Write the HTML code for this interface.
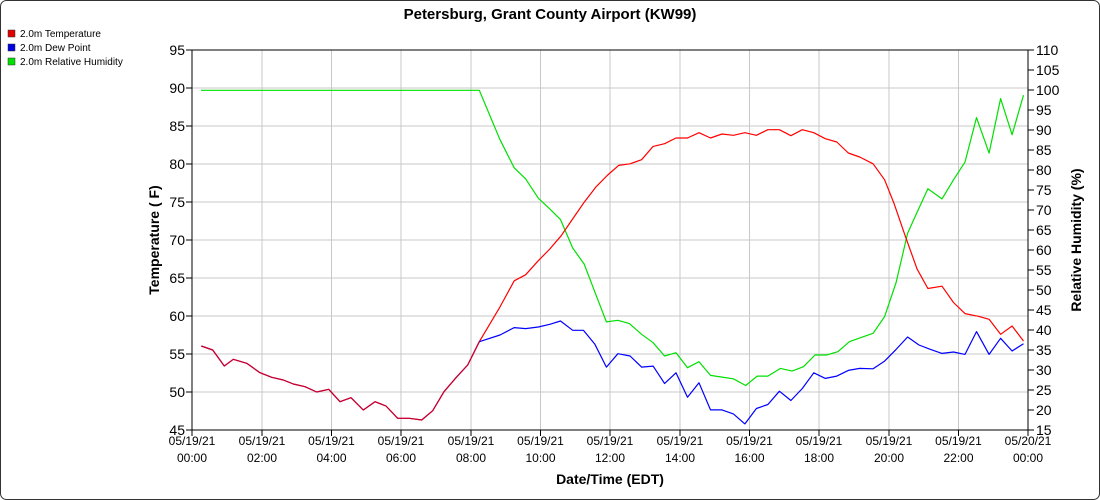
<!DOCTYPE html>
<html><head><meta charset="utf-8"><style>
html,body{margin:0;padding:0;background:#fff;}
svg{display:block;font-family:"Liberation Sans",Arial,sans-serif;}
</style></head><body>
<svg width="1100" height="500" viewBox="0 0 1100 500" xmlns="http://www.w3.org/2000/svg">
<rect x="0.5" y="0.5" width="1099" height="499" rx="6" fill="#fff" stroke="#333"/>
<text x="550" y="19" text-anchor="middle" font-size="15" font-weight="bold">Petersburg, Grant County Airport (KW99)</text>
<g font-size="10">
<rect x="8" y="30" width="7" height="7" fill="#e00000" stroke="#333" stroke-width="0.5"/><text x="20" y="37">2.0m Temperature</text>
<rect x="8" y="44" width="7" height="7" fill="#0000e0" stroke="#333" stroke-width="0.5"/><text x="20" y="51">2.0m Dew Point</text>
<rect x="8" y="58" width="7" height="7" fill="#00e000" stroke="#333" stroke-width="0.5"/><text x="20" y="65">2.0m Relative Humidity</text>
</g>
<g stroke="#c8c8c8" stroke-width="1">
<line x1="192" y1="88" x2="1028" y2="88"/><line x1="192" y1="126" x2="1028" y2="126"/><line x1="192" y1="164" x2="1028" y2="164"/><line x1="192" y1="202" x2="1028" y2="202"/><line x1="192" y1="240" x2="1028" y2="240"/><line x1="192" y1="278" x2="1028" y2="278"/><line x1="192" y1="316" x2="1028" y2="316"/><line x1="192" y1="354" x2="1028" y2="354"/><line x1="192" y1="392" x2="1028" y2="392"/>
<line x1="262" y1="50" x2="262" y2="430"/><line x1="331.5" y1="50" x2="331.5" y2="430"/><line x1="401" y1="50" x2="401" y2="430"/><line x1="471" y1="50" x2="471" y2="430"/><line x1="540.5" y1="50" x2="540.5" y2="430"/><line x1="610" y1="50" x2="610" y2="430"/><line x1="680" y1="50" x2="680" y2="430"/><line x1="749.5" y1="50" x2="749.5" y2="430"/><line x1="819" y1="50" x2="819" y2="430"/><line x1="889" y1="50" x2="889" y2="430"/><line x1="958.5" y1="50" x2="958.5" y2="430"/>
</g>
<rect x="192" y="50" width="836" height="380" fill="none" stroke="#000" stroke-width="1"/>
<g stroke="#000">
<line x1="186" y1="50" x2="192" y2="50"/><line x1="186" y1="88" x2="192" y2="88"/><line x1="186" y1="126" x2="192" y2="126"/><line x1="186" y1="164" x2="192" y2="164"/><line x1="186" y1="202" x2="192" y2="202"/><line x1="186" y1="240" x2="192" y2="240"/><line x1="186" y1="278" x2="192" y2="278"/><line x1="186" y1="316" x2="192" y2="316"/><line x1="186" y1="354" x2="192" y2="354"/><line x1="186" y1="392" x2="192" y2="392"/><line x1="186" y1="430" x2="192" y2="430"/>
<line x1="1028" y1="50" x2="1034" y2="50"/><line x1="1028" y1="70" x2="1034" y2="70"/><line x1="1028" y1="90" x2="1034" y2="90"/><line x1="1028" y1="110" x2="1034" y2="110"/><line x1="1028" y1="130" x2="1034" y2="130"/><line x1="1028" y1="150" x2="1034" y2="150"/><line x1="1028" y1="170" x2="1034" y2="170"/><line x1="1028" y1="190" x2="1034" y2="190"/><line x1="1028" y1="210" x2="1034" y2="210"/><line x1="1028" y1="230" x2="1034" y2="230"/><line x1="1028" y1="250" x2="1034" y2="250"/><line x1="1028" y1="270" x2="1034" y2="270"/><line x1="1028" y1="290" x2="1034" y2="290"/><line x1="1028" y1="310" x2="1034" y2="310"/><line x1="1028" y1="330" x2="1034" y2="330"/><line x1="1028" y1="350" x2="1034" y2="350"/><line x1="1028" y1="370" x2="1034" y2="370"/><line x1="1028" y1="390" x2="1034" y2="390"/><line x1="1028" y1="410" x2="1034" y2="410"/><line x1="1028" y1="430" x2="1034" y2="430"/>
<line x1="192" y1="430" x2="192" y2="436"/><line x1="262" y1="430" x2="262" y2="436"/><line x1="331.5" y1="430" x2="331.5" y2="436"/><line x1="401" y1="430" x2="401" y2="436"/><line x1="471" y1="430" x2="471" y2="436"/><line x1="540.5" y1="430" x2="540.5" y2="436"/><line x1="610" y1="430" x2="610" y2="436"/><line x1="680" y1="430" x2="680" y2="436"/><line x1="749.5" y1="430" x2="749.5" y2="436"/><line x1="819" y1="430" x2="819" y2="436"/><line x1="889" y1="430" x2="889" y2="436"/><line x1="958.5" y1="430" x2="958.5" y2="436"/><line x1="1028" y1="430" x2="1028" y2="436"/>
</g>
<g font-size="14" text-anchor="end">
<text x="185" y="55">95</text><text x="185" y="93">90</text><text x="185" y="131">85</text><text x="185" y="169">80</text><text x="185" y="207">75</text><text x="185" y="245">70</text><text x="185" y="283">65</text><text x="185" y="321">60</text><text x="185" y="359">55</text><text x="185" y="397">50</text><text x="185" y="435">45</text>
</g>
<g font-size="14">
<text x="1036" y="55">110</text><text x="1036" y="75">105</text><text x="1036" y="95">100</text><text x="1036" y="115">95</text><text x="1036" y="135">90</text><text x="1036" y="155">85</text><text x="1036" y="175">80</text><text x="1036" y="195">75</text><text x="1036" y="215">70</text><text x="1036" y="235">65</text><text x="1036" y="255">60</text><text x="1036" y="275">55</text><text x="1036" y="295">50</text><text x="1036" y="315">45</text><text x="1036" y="335">40</text><text x="1036" y="355">35</text><text x="1036" y="375">30</text><text x="1036" y="395">25</text><text x="1036" y="415">20</text><text x="1036" y="435">15</text>
</g>
<g font-size="12" text-anchor="middle">
<text x="192" y="445">05/19/21</text><text x="192" y="462">00:00</text>
<text x="262" y="445">05/19/21</text><text x="262" y="462">02:00</text>
<text x="331.5" y="445">05/19/21</text><text x="331.5" y="462">04:00</text>
<text x="401" y="445">05/19/21</text><text x="401" y="462">06:00</text>
<text x="471" y="445">05/19/21</text><text x="471" y="462">08:00</text>
<text x="540.5" y="445">05/19/21</text><text x="540.5" y="462">10:00</text>
<text x="610" y="445">05/19/21</text><text x="610" y="462">12:00</text>
<text x="680" y="445">05/19/21</text><text x="680" y="462">14:00</text>
<text x="749.5" y="445">05/19/21</text><text x="749.5" y="462">16:00</text>
<text x="819" y="445">05/19/21</text><text x="819" y="462">18:00</text>
<text x="889" y="445">05/19/21</text><text x="889" y="462">20:00</text>
<text x="958.5" y="445">05/19/21</text><text x="958.5" y="462">22:00</text>
<text x="1028" y="445">05/20/21</text><text x="1028" y="462">00:00</text>
</g>
<text x="610" y="484" text-anchor="middle" font-size="14" font-weight="bold">Date/Time (EDT)</text>
<text transform="translate(159,240) rotate(-90)" text-anchor="middle" font-size="14" font-weight="bold">Temperature ( F)</text>
<text transform="translate(1081,240) rotate(-90)" text-anchor="middle" font-size="14" font-weight="bold">Relative Humidity (%)</text>
<g fill="none" stroke-width="1.2" stroke-linejoin="round">
<polyline stroke="#00e000" points="201,90.3 479.3,90.3 500,139.7 514.2,167.8 525.6,178.8 538.3,198.2 549.8,208.9 560.5,219.6 572.7,248 584.2,264.1 595.7,294.2 606.4,321.9 617.9,320.3 629.4,323.6 641.6,334.3 653.1,342.7 664.6,356 676,352.7 687.5,367.7 699,361.7 710.5,375.4 722,377.1 733.4,378.8 745.7,385.5 757.2,376.1 767.9,376.1 780.5,368.4 792,371.1 803.5,366.7 815,355 826.4,355 837.9,351.7 849.4,341.7 860.9,337.6 873.1,333.3 884.6,316.6 896.1,282.5 907.6,233.3 917.1,212.3 927.9,188.8 942,198.9 953.5,179.8 965,162.1 976.5,117.6 989.1,153.1 1000.6,98.6 1012.1,134.7 1023.5,95.2"/>
<polyline stroke="#ff0000" points="201.3,346 212.7,350 224.3,366 233.3,359.3 246.7,363.3 260,372.7 271.7,377.3 283.3,380 293.3,384 305,386.7 316.7,392 328.7,389.3 340,401.7 351,397.7 363.3,410 375,401.7 386,406 397.7,418.3 409.3,418.3 421.7,420 432.7,410.7 444,391.7 456,377.7 467.7,365 479.3,341.7 500,306.9 514.2,280.8 525.6,274.8 538.3,260.7 549.8,249 561.2,235.7 572.7,218.9 584.2,202.2 595.7,187.2 607.2,175.5 618.6,165.4 630.1,163.8 641.6,159.7 653.1,146.4 664.6,143.7 676,138 687.5,138 699,132.7 710.5,138 722,134 733.4,135.3 744.9,132.7 756.4,135.3 767.9,129.7 779.4,129.7 790.9,135.7 802.3,129.7 813.8,132.7 825.3,138.7 836.8,142 848.3,153 859.7,157 873.1,163.8 884.6,179.8 894.2,203.9 905.7,237.3 917.1,269.1 927.9,288.5 942,286.2 953.5,302.5 965,313.6 978.4,316.3 989.1,319.3 1000.6,334.3 1012.1,326 1023.5,341"/>
<polyline stroke="#0000ff" points="479.3,341.7 500,335 514.2,327.6 525.6,328.6 538.3,327 549.8,324.3 560.5,321 572.7,330.3 583.4,330.3 594.9,344.3 606.4,367.1 617.9,353.7 630.1,356 641.6,367.1 653.1,366.1 664.6,383.5 676,372.8 687.5,397.2 699,382.8 710.5,409.9 722,409.9 733.4,413.9 744.9,423.9 756.4,408.5 767.9,404.5 779.4,391.2 790.9,400.5 802.3,388.5 813.8,372.8 825.3,378.4 836.8,376.1 848.3,370.4 859.7,368.4 873.1,368.8 884.6,361.1 896.1,349.4 907.6,337 919,345 930.5,349.4 942,353.4 953.5,352 965,354.4 976.5,331.6 989.1,354.4 1000.6,338.3 1012.1,351 1023.5,343.7"/>
<polyline stroke="#c0003a" points="201.3,346 212.7,350 224.3,366 233.3,359.3 246.7,363.3 260,372.7 271.7,377.3 283.3,380 293.3,384 305,386.7 316.7,392 328.7,389.3 340,401.7 351,397.7 363.3,410 375,401.7 386,406 397.7,418.3 409.3,418.3 421.7,420 432.7,410.7 444,391.7 456,377.7 467.7,365 479.3,341.7"/>
</g>
</svg>
</body></html>
